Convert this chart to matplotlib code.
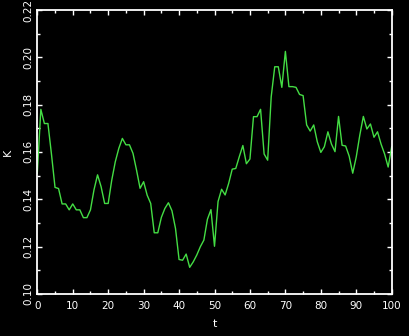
import numpy as np
import matplotlib
matplotlib.use("Agg")
import matplotlib.pyplot as plt
from matplotlib.ticker import MultipleLocator

# values, one per unit of t
t = np.arange(0, 101)
K = [0.151, 0.178, 0.172, 0.172, 0.159, 0.145, 0.1445, 0.138, 0.138, 0.1355,
     0.138, 0.1355, 0.1355, 0.1322, 0.1322, 0.1355, 0.144, 0.1503, 0.1453, 0.1382,
     0.1382, 0.148, 0.1558, 0.1615, 0.1657, 0.163, 0.163, 0.1594, 0.1523, 0.1446,
     0.1474, 0.1417, 0.1382, 0.1258, 0.1258, 0.1323, 0.1361, 0.1385, 0.1351, 0.1276,
     0.1145, 0.1142, 0.1168, 0.1112, 0.1135, 0.1164, 0.1199, 0.1227, 0.1315, 0.1356,
     0.1201, 0.139, 0.1442, 0.1418, 0.1467, 0.1527, 0.153, 0.158, 0.1627, 0.155,
     0.157, 0.1749, 0.1749, 0.178, 0.1591, 0.1565, 0.1833, 0.196, 0.196, 0.1873,
     0.2025, 0.1876, 0.1876, 0.1873, 0.1843, 0.1838, 0.1714, 0.1688, 0.1714, 0.1643,
     0.1598, 0.1622, 0.1685, 0.1633, 0.1601, 0.1750, 0.1628, 0.1625, 0.1582, 0.151,
     0.1579, 0.1671, 0.1750, 0.1697, 0.1718, 0.1662, 0.1685, 0.1633, 0.1591, 0.1536,
     0.1622]

fig = plt.figure(figsize=(4.09, 3.36), dpi=100, facecolor='black')
ax = fig.add_axes([0.0912, 0.1256, 0.8665, 0.8446], facecolor='black')

ax.plot(t, K, color='#44dd44', lw=1.0)

ax.set_xlim(0, 100)
ax.set_ylim(0.10, 0.22)
ax.xaxis.set_major_locator(MultipleLocator(10))
ax.xaxis.set_minor_locator(MultipleLocator(5))
ax.yaxis.set_major_locator(MultipleLocator(0.02))
ax.yaxis.set_minor_locator(MultipleLocator(0.01))

for s in ax.spines.values():
    s.set_color('white')
    s.set_linewidth(1.3)

ax.tick_params(which='both', direction='in', colors='white', top=True, right=True,
               labelsize=7.5, width=1)
ax.tick_params(which='major', length=3.5)
ax.tick_params(which='minor', length=2)
ax.tick_params(axis='x', which='major', pad=5)
ax.tick_params(axis='y', which='major', pad=2.5)
for lab in ax.get_yticklabels():
    lab.set_rotation(90)
    lab.set_va('center')

ax.set_xlabel('t', color='white', fontsize=8, labelpad=6)
ax.set_ylabel('K', color='white', fontsize=8, labelpad=8)

fig.savefig('out.png', dpi=100, facecolor='black')
